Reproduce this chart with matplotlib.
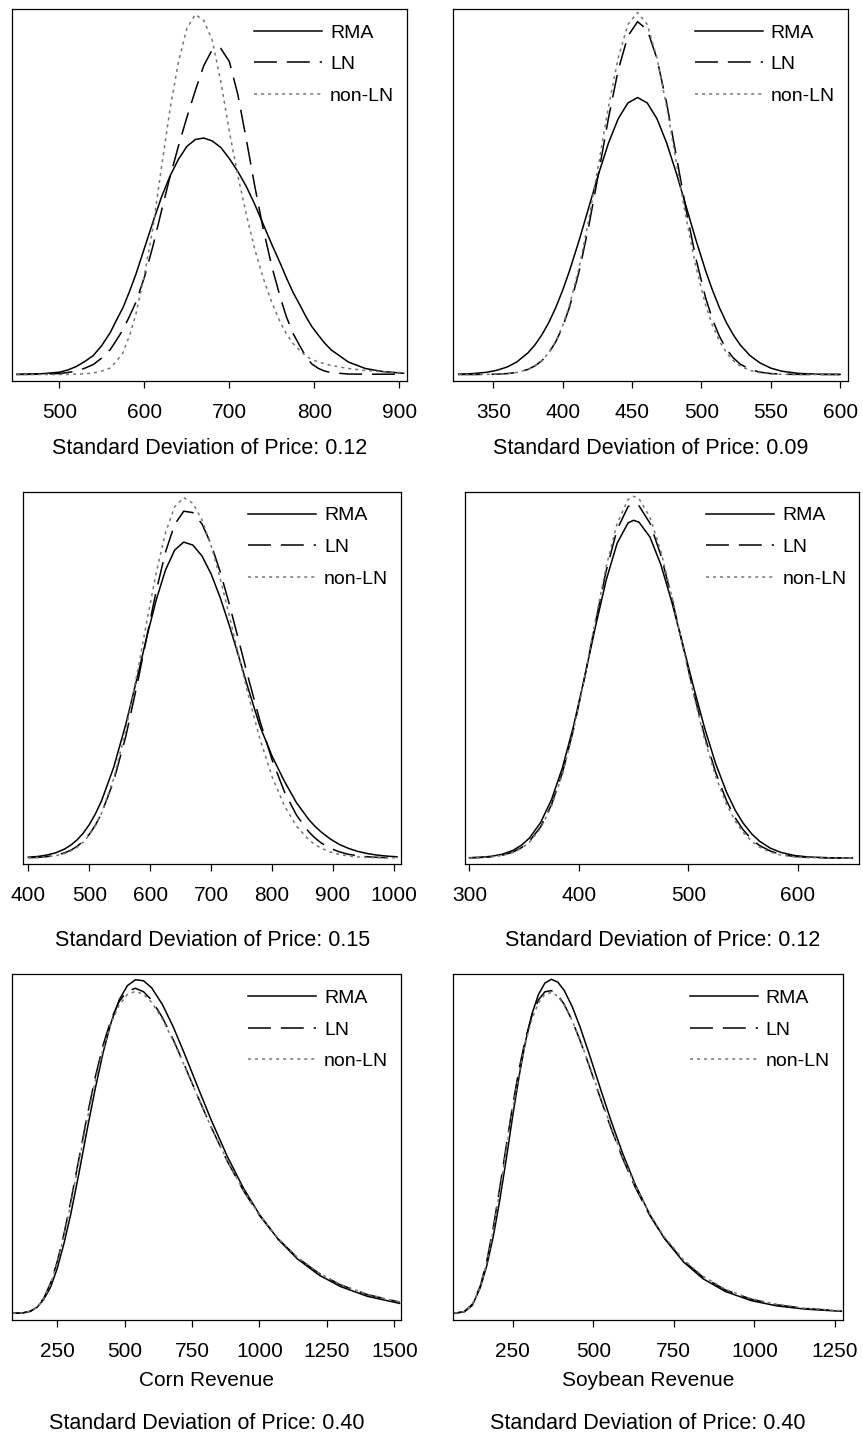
import matplotlib
matplotlib.use("Agg")
import matplotlib.pyplot as plt

plt.rcParams["font.family"] = ["Liberation Sans", "DejaVu Sans"]

# ---- values (heights are relative density, no y scale shown) ----
X_P1 = [450, 480, 500, 510, 520, 530, 540, 550, 560, 567, 575, 583, 590, 600, 610, 620, 630,
        640, 650, 660, 670, 680, 690, 700, 710, 720, 730, 740, 750, 760, 767, 775, 783, 790,
        797, 805, 812, 820, 840, 860, 880, 905]
RMA_P1 = [0.2, 0.8, 2.3, 4.5, 8.0, 13.0, 19.0, 29.0, 42.0, 54.0, 67.0, 84.0, 100.0, 126.0,
          152.0, 177.0, 198.0, 215.0, 228.0, 235.0, 236.5, 233.5, 227.0, 216.0, 203.0, 188.0,
          170.0, 150.0, 130.0, 111.0, 97.0, 82.0, 69.5, 58.0, 48.0, 39.0, 31.5, 24.5, 12.5, 6.0,
          3.0, 1.2]
LN_P1 = [0.0, 0.3, 1.0, 2.0, 3.5, 6.3, 10.0, 16.5, 25.0, 34.0, 45.0, 59.0, 72.0, 97.0, 128.0,
         163.0, 197.0, 228.0, 257.0, 284.0, 309.0, 325.0, 326.0, 313.0, 280.0, 235.0, 188.0,
         145.0, 108.0, 77.0, 58.0, 41.0, 28.5, 18.0, 10.5, 6.0, 3.5, 1.8, 0.5, 0.3, 0.3, 0.3]
NONLN_P1 = [0.0, 0.0, 0.0, 0.1, 0.3, 0.7, 1.5, 3.5, 6.5, 13.0, 22.0, 40.0, 60.0, 99.0, 146.0,
            206.0, 264.0, 312.0, 346.0, 360.0, 354.0, 334.0, 293.0, 243.0, 199.0, 160.0, 125.0,
            96.0, 72.0, 52.0, 41.0, 31.0, 24.0, 18.5, 15.0, 12.5, 10.7, 9.0, 6.0, 4.0, 2.8, 1.8]

X_P2 = [325, 335, 345, 352, 360, 367, 375, 380, 385, 390, 395, 400, 405, 412, 419, 426, 433,
        440, 447, 454, 461, 468, 475, 482, 489, 496, 503, 508, 513, 518, 523, 528, 535, 542,
        550, 558, 570, 585, 600]
RMA_P2 = [0.3, 0.9, 2.2, 4.0, 7.5, 12.6, 21.7, 29.6, 39.7, 52.0, 66.9, 84.3, 104.0, 134.8, 168.0,
          201.1, 231.4, 255.7, 271.5, 277.0, 271.5, 255.7, 231.4, 201.1, 168.0, 134.8, 104.0,
          84.3, 66.9, 52.0, 39.7, 29.6, 19.0, 11.8, 6.4, 3.3, 1.1, 0.25, 0.1]
LN_P2 = [0.0, 0.0, 0.1, 0.3, 0.9, 2.1, 5.1, 8.6, 13.8, 21.6, 32.7, 47.8, 67.6, 103.9, 149.8,
         202.3, 256.3, 304.2, 338.4, 352.8, 344.7, 315.7, 271.0, 218.0, 164.4, 116.2, 77.0, 55.1,
         38.2, 25.6, 16.6, 10.4, 5.1, 2.4, 0.9, 0.3, 0.1, 0.0, 0.0]
NONLN_P2 = [0.0, 0.0, 0.1, 0.3, 0.8, 2.0, 5.0, 8.5, 13.8, 21.8, 33.3, 49.0, 69.8, 107.9, 156.3,
            211.4, 267.5, 316.5, 350.0, 362.0, 350.0, 316.5, 267.5, 211.4, 156.3, 107.9, 69.8,
            49.0, 33.3, 21.8, 13.8, 8.5, 4.0, 1.8, 0.6, 0.2, 0.0, 0.0, 0.0]

X_P3 = [400, 415, 430, 445, 460, 470, 480, 490, 500, 510, 520, 540, 560, 580, 595, 610, 625,
        640, 655, 670, 685, 700, 715, 730, 745, 760, 780, 800, 820, 840, 860, 870, 880, 895,
        910, 925, 940, 955, 970, 988, 1005]
RMA_P3 = [0.8, 1.5, 2.9, 5.2, 9.1, 13.0, 18.1, 24.7, 33.3, 44.0, 56.9, 90.5, 133.8, 183.9, 222.5,
          258.3, 287.8, 307.8, 315.9, 312.9, 302.0, 284.0, 260.2, 232.2, 202.0, 171.1, 131.8,
          101.8, 77.0, 55.3, 38.6, 31.9, 26.3, 19.2, 13.7, 9.7, 6.7, 4.6, 3.1, 1.9, 1.2]
LN_P3 = [0.3, 0.6, 1.3, 2.7, 5.2, 7.9, 11.6, 16.7, 23.6, 32.7, 44.4, 76.7, 121.7, 177.5, 223.1,
         267.4, 305.7, 333.4, 346.8, 345.4, 334.0, 313.6, 286.0, 253.4, 218.1, 182.3, 137.2,
         98.1, 66.6, 42.9, 26.3, 20.2, 15.3, 9.8, 6.2, 3.7, 2.2, 1.3, 0.7, 0.3, 0.2]
NONLN_P3 = [0.2, 0.5, 1.1, 2.3, 4.6, 7.1, 10.7, 15.8, 22.9, 32.3, 44.5, 79.0, 127.9, 189.0,
            238.4, 285.6, 325.0, 351.2, 360.4, 354.7, 338.1, 312.2, 279.2, 241.9, 203.0, 165.0,
            119.1, 81.2, 52.4, 31.9, 18.4, 13.6, 10.0, 6.1, 3.6, 2.1, 1.1, 0.6, 0.4, 0.2, 0.1]

X_P4 = [300, 310, 320, 330, 340, 348, 355, 365, 375, 385, 395, 405, 415, 425, 435, 445, 450,
        455, 465, 475, 485, 495, 505, 515, 525, 535, 543, 550, 558, 565, 575, 585, 597, 610,
        630, 650]
RMA_P4 = [0.3, 0.7, 1.7, 3.7, 7.7, 13.1, 20.1, 35.3, 58.2, 90.2, 131.2, 179.4, 230.3, 277.8,
          314.8, 335.1, 337.7, 335.8, 321.0, 293.2, 255.9, 213.6, 170.3, 129.8, 94.5, 65.8, 47.6,
          35.1, 24.1, 16.9, 9.8, 5.5, 2.5, 1.0, 0.2, 0.0]
LN_P4 = [0.2, 0.5, 1.2, 2.8, 6.0, 10.6, 16.9, 31.0, 53.2, 85.2, 127.7, 179.0, 234.4, 287.1,
         328.5, 351.4, 354.4, 352.2, 334.8, 302.7, 260.1, 212.5, 165.1, 121.9, 85.7, 57.2, 39.9,
         28.4, 18.6, 12.6, 6.9, 3.5, 1.5, 0.6, 0.1, 0.0]
NONLN_P4 = [0.1, 0.4, 1.0, 2.5, 5.5, 9.9, 15.9, 29.6, 51.6, 83.7, 127.0, 179.4, 236.7, 291.3,
            334.6, 358.6, 361.7, 359.3, 340.8, 306.6, 261.7, 211.8, 162.7, 118.5, 81.9, 53.6,
            36.8, 25.7, 16.6, 11.0, 5.8, 2.9, 1.2, 0.4, 0.1, 0.0]

X_P5 = [85, 120, 150, 175, 200, 225, 250, 275, 300, 330, 360, 390, 420, 450, 480, 510, 540,
        570, 600, 640, 680, 720, 770, 820, 880, 940, 1000, 1070, 1140, 1220, 1300, 1400, 1520]
RMA_P5 = [0.0, 0.3, 2.0, 6.0, 14.0, 26.0, 45.0, 70.0, 99.0, 139.5, 182.5, 223.5, 260.7, 291.1,
          313.6, 327.6, 333.6, 332.5, 325.5, 308.8, 286.5, 260.8, 227.1, 193.9, 157.3, 125.4,
          98.8, 73.8, 54.6, 38.4, 26.8, 17.0, 9.9]
LN_P5 = [0.0, 0.3, 2.0, 6.3, 15.2, 30.2, 51.8, 79.5, 111.9, 154.0, 196.2, 235.1, 268.3, 294.1,
         312.0, 322.1, 325.0, 321.6, 313.2, 295.8, 273.8, 249.3, 217.5, 186.6, 152.5, 122.9, 97.8,
         74.2, 55.8, 40.0, 28.5, 18.7, 11.2]
NONLN_P5 = [0.0, 0.3, 1.9, 6.1, 14.7, 29.4, 50.5, 77.6, 109.4, 150.9, 192.6, 231.3, 264.3, 290.2,
            308.4, 318.7, 322.0, 319.1, 311.0, 294.2, 272.7, 248.6, 217.3, 186.7, 152.9, 123.3,
            98.3, 74.7, 56.3, 40.4, 28.9, 18.9, 11.3]

X_P6 = [70, 100, 125, 150, 170, 190, 210, 230, 250, 270, 290, 310, 330, 350, 370, 390, 410,
        435, 460, 490, 520, 555, 590, 630, 675, 720, 780, 840, 910, 990, 1070, 1160, 1270]
RMA_P6 = [0.0, 1.5, 8.0, 26.0, 48.0, 77.0, 113.0, 153.9, 196.9, 237.1, 271.9, 299.4, 318.8,
          330.2, 334.0, 331.2, 322.9, 306.5, 285.5, 256.9, 226.9, 192.7, 161.0, 129.1, 99.1, 75.2,
          51.4, 34.7, 21.8, 12.7, 7.4, 4.1, 2.0]
LN_P6 = [0.1, 1.8, 9.1, 27.7, 52.8, 86.2, 125.5, 167.2, 207.8, 244.4, 274.8, 298.0, 313.4, 321.5,
         322.7, 318.2, 309.0, 292.5, 272.2, 245.1, 217.1, 185.2, 155.9, 126.2, 98.1, 75.5, 52.6,
         36.3, 23.4, 14.1, 8.5, 4.8, 2.4]
NONLN_P6 = [0.1, 1.7, 8.7, 26.7, 51.1, 83.8, 122.4, 163.5, 203.9, 240.4, 271.0, 294.5, 310.4,
            319.0, 320.9, 317.0, 308.3, 292.4, 272.6, 246.0, 218.3, 186.7, 157.4, 127.7, 99.5,
            76.7, 53.6, 37.1, 24.0, 14.5, 8.8, 5.0, 2.5]

TICKS_P1 = [500, 600, 700, 800, 900]
TICKS_P2 = [350, 400, 450, 500, 550, 600]
TICKS_P3 = [400, 500, 600, 700, 800, 900, 1000]
TICKS_P4 = [300, 400, 500, 600]
TICKS_P5 = [250, 500, 750, 1000, 1250, 1500]
TICKS_P6 = [250, 500, 750, 1000, 1250]

SD_LABELS = ["0.12", "0.09", "0.15", "0.12", "0.40", "0.40"]
X_LABELS = ["", "", "", "", "Corn Revenue", "Soybean Revenue"]

W, H = 863, 1438
fig = plt.figure(figsize=(W / 100, H / 100), dpi=100)

# panel boxes in pixels: left, right, top, bottom
boxes = [(11.7, 407, 9, 381), (452.7, 847.7, 9, 381),
         (23.3, 401, 491.7, 864.3), (465, 859.3, 491.7, 864.3),
         (11.7, 401, 974.3, 1320), (452.7, 842.7, 974.3, 1320)]
xlims = [(444, 909), (320.7, 605.5), (391.8, 1011.5), (296, 656.3), (81, 1525), (64, 1274)]
ylims = [(-6.5, 365.5), (-6.5, 365.5), (-6.3, 366.3), (-6.3, 366.3), (-6.7, 339), (-6.7, 339)]
title_y = [448.5, 448.5, 940, 940, 1423.5, 1423.5]

panels = [(X_P1, RMA_P1, LN_P1, NONLN_P1, TICKS_P1),
          (X_P2, RMA_P2, LN_P2, NONLN_P2, TICKS_P2),
          (X_P3, RMA_P3, LN_P3, NONLN_P3, TICKS_P3),
          (X_P4, RMA_P4, LN_P4, NONLN_P4, TICKS_P4),
          (X_P5, RMA_P5, LN_P5, NONLN_P5, TICKS_P5),
          (X_P6, RMA_P6, LN_P6, NONLN_P6, TICKS_P6)]

for i, (x, rma, ln, nonln, ticks) in enumerate(panels):
    l, r, t, b = boxes[i]
    ax = fig.add_axes([l / W, 1 - b / H, (r - l) / W, (b - t) / H])
    ax.plot(x, rma, color="black", lw=1.1, label="RMA", solid_joinstyle="round")
    ax.plot(x, ln, color="black", lw=1.1, ls=(0, (15, 6.5)), label="LN")
    ax.plot(x, nonln, color="#777777", lw=1.1, ls=(0, (2, 2.6)), label="non-LN")
    ax.set_xlim(*xlims[i])
    ax.set_ylim(*ylims[i])
    ax.set_xticks(ticks)
    ax.set_yticks([])
    ax.tick_params(axis="x", direction="out", length=5, width=0.9, pad=10.8,
                   labelsize=15, colors="black")
    for s in ax.spines.values():
        s.set_linewidth(0.9)
        s.set_color("black")
    ax.legend(loc="upper left", bbox_to_anchor=(1 - 153 / (r - l), 1 - 15 / (b - t)),
              frameon=False, fontsize=14, handlelength=3.5, handletextpad=0.41,
              labelspacing=0.72, borderpad=0, borderaxespad=0)

    cx = (l + r) / 2 / W
    if X_LABELS[i]:
        fig.text(cx, 1 - 1381 / H, X_LABELS[i], ha="center", va="center", fontsize=15)
    fig.text(cx, 1 - title_y[i] / H, "Standard Deviation of Price: " + SD_LABELS[i],
             ha="center", va="center", fontsize=15.5)

fig.savefig("out.png", dpi=100)
